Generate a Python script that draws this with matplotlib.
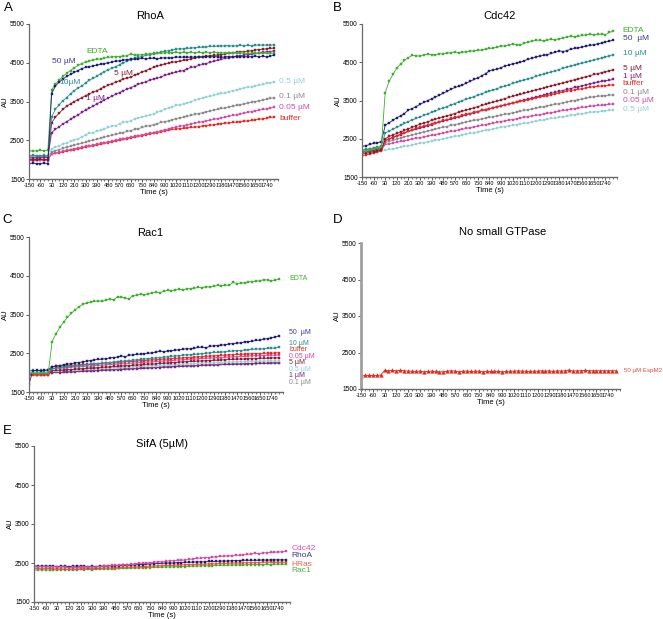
import matplotlib
matplotlib.use('Agg')
import matplotlib.pyplot as plt
from matplotlib import font_manager
from matplotlib.ticker import MultipleLocator

# pick a condensed sans if it is installed
names = {f.name for f in font_manager.fontManager.ttflist}
NARROW = 'Liberation Sans Narrow' if 'Liberation Sans Narrow' in names else 'Liberation Sans'
plt.rcParams['font.family'] = [NARROW, 'DejaVu Sans']

W, H = 663, 619

# sampling times (s): 6 points before addition, then every 30 s
TIME = list(range(-150, 1801, 30))
XTICKS = list(range(-150, 1741, 90))
YTICKS = [1500, 2500, 3500, 4500, 5500]

# ---------------- A: RhoA ----------------
A_EDTA = [2230, 2220, 2230, 2240, 2230, 2250,
          3800, 3950, 4050, 4150, 4230, 4300, 4370, 4430, 4480, 4520,
          4550, 4570, 4590, 4600, 4620, 4640, 4650, 4660, 4660, 4670,
          4680, 4730, 4690, 4700, 4710, 4720, 4730, 4740, 4740, 4750,
          4760, 4760, 4760, 4770, 4760, 4770, 4760, 4770, 4760, 4770,
          4760, 4770, 4760, 4770, 4760, 4750, 4760, 4750, 4760, 4750,
          4740, 4750, 4740, 4750, 4740, 4750, 4740, 4750, 4740, 4750]
A_50 = [1900, 1910, 1900, 1900, 1910, 1900,
        3700, 3900, 4000, 4080, 4150, 4200, 4250, 4300, 4350, 4380,
        4400, 4420, 4440, 4460, 4480, 4500, 4520, 4540, 4550, 4570,
        4580, 4600, 4590, 4600, 4610, 4600, 4610, 4620, 4600, 4620,
        4630, 4620, 4630, 4650, 4640, 4650, 4640, 4650, 4640, 4660,
        4650, 4660, 4650, 4660, 4650, 4640, 4650, 4660, 4650, 4660,
        4650, 4660, 4650, 4660, 4670, 4660, 4670, 4650, 4670, 4700]
A_10 = [2100, 2110, 2100, 2100, 2110, 2100,
        3100, 3300, 3420, 3520, 3600, 3700, 3780, 3850, 3900, 3980,
        4050, 4100, 4150, 4220, 4270, 4320, 4360, 4400, 4450, 4500,
        4540, 4580, 4610, 4640, 4660, 4690, 4710, 4730, 4750, 4780,
        4800, 4810, 4830, 4850, 4860, 4860, 4870, 4880, 4890, 4900,
        4900, 4910, 4920, 4920, 4930, 4930, 4940, 4940, 4930, 4940,
        4950, 4940, 4950, 4940, 4950, 4960, 4950, 4960, 4950, 4970]
A_5 = [2000, 1990, 2000, 2010, 2000, 2000,
       2950, 3100, 3200, 3300, 3380, 3440, 3500, 3550, 3600, 3650,
       3700, 3740, 3780, 3830, 3880, 3920, 3960, 4000, 4040, 4080,
       4100, 4130, 4180, 4220, 4260, 4300, 4340, 4380, 4410, 4440,
       4470, 4490, 4510, 4530, 4540, 4560, 4580, 4600, 4620, 4640,
       4650, 4670, 4680, 4690, 4700, 4710, 4730, 4740, 4760, 4770,
       4780, 4790, 4800, 4810, 4830, 4840, 4850, 4860, 4870, 4880]
A_1 = [2050, 2040, 2050, 2050, 2060, 2050,
       2700, 2780, 2850, 2920, 2980, 3040, 3100, 3150, 3220, 3280,
       3330, 3380, 3440, 3490, 3540, 3590, 3640, 3690, 3730, 3780,
       3820, 3860, 3900, 3950, 3980, 4010, 4050, 4080, 4100, 4130,
       4180, 4200, 4230, 4260, 4280, 4300, 4350, 4380, 4400, 4430,
       4460, 4480, 4510, 4540, 4560, 4590, 4610, 4630, 4650, 4670,
       4680, 4700, 4710, 4720, 4740, 4750, 4770, 4780, 4790, 4810]
A_05 = [2050, 2060, 2050, 2050, 2060, 2050,
        2280, 2320, 2360, 2400, 2430, 2470, 2500, 2540, 2580, 2640,
        2680, 2700, 2730, 2760, 2800, 2830, 2860, 2880, 2920, 2960,
        2980, 3000, 3050, 3080, 3110, 3130, 3150, 3180, 3220, 3260,
        3300, 3330, 3360, 3400, 3420, 3440, 3460, 3500, 3530, 3560,
        3590, 3610, 3630, 3660, 3690, 3710, 3720, 3750, 3780, 3800,
        3830, 3850, 3870, 3880, 3900, 3920, 3940, 3970, 3990, 4010]
A_01 = [2080, 2070, 2080, 2080, 2090, 2080,
        2200, 2230, 2260, 2290, 2320, 2350, 2370, 2400, 2420, 2450,
        2480, 2500, 2520, 2550, 2580, 2600, 2630, 2650, 2680, 2700,
        2730, 2750, 2780, 2800, 2830, 2860, 2880, 2900, 2930, 2960,
        2980, 3000, 3030, 3060, 3080, 3100, 3120, 3140, 3170, 3190,
        3210, 3230, 3260, 3280, 3300, 3320, 3340, 3360, 3380, 3400,
        3420, 3440, 3460, 3480, 3500, 3520, 3540, 3560, 3580, 3600]
A_005 = [1980, 1970, 1980, 1990, 1980, 1980,
         2150, 2170, 2190, 2210, 2240, 2260, 2280, 2300, 2320, 2340,
         2360, 2380, 2400, 2420, 2440, 2460, 2480, 2500, 2520, 2540,
         2560, 2580, 2600, 2620, 2640, 2660, 2680, 2700, 2720, 2750,
         2770, 2790, 2820, 2840, 2860, 2880, 2900, 2920, 2940, 2960,
         2980, 3000, 3020, 3040, 3060, 3080, 3100, 3120, 3140, 3160,
         3180, 3200, 3220, 3240, 3260, 3280, 3300, 3310, 3330, 3350]
A_BUF = [2000, 2010, 2000, 2000, 2010, 2000,
         2150, 2170, 2180, 2200, 2220, 2240, 2260, 2280, 2300, 2320,
         2340, 2360, 2380, 2400, 2420, 2440, 2460, 2480, 2500, 2520,
         2540, 2560, 2580, 2600, 2620, 2640, 2660, 2680, 2700, 2720,
         2740, 2760, 2780, 2790, 2800, 2810, 2820, 2830, 2840, 2850,
         2870, 2880, 2890, 2900, 2920, 2930, 2940, 2950, 2960, 2970,
         2980, 2990, 3000, 3010, 3030, 3040, 3060, 3070, 3090, 3100]

# ---------------- B: Cdc42 ----------------
B_EDTA = [2150, 2170, 2200, 2230, 2260, 2290,
          3700, 4000, 4180, 4350, 4450, 4550, 4620, 4680, 4670, 4660,
          4690, 4710, 4700, 4700, 4720, 4720, 4740, 4750, 4770, 4750,
          4760, 4780, 4790, 4800, 4810, 4820, 4840, 4860, 4870, 4900,
          4920, 4930, 4950, 4980, 4960, 4950, 5000, 5020, 5050, 5080,
          5070, 5060, 5080, 5100, 5090, 5120, 5130, 5160, 5180, 5170,
          5180, 5200, 5220, 5230, 5220, 5230, 5240, 5220, 5280, 5310]
B_50 = [2300, 2320, 2350, 2380, 2400, 2420,
        2850, 2920, 2980, 3050, 3100, 3160, 3250, 3290, 3340, 3400,
        3450, 3500, 3540, 3590, 3640, 3690, 3740, 3790, 3840, 3870,
        3900, 3960, 4000, 4050, 4090, 4150, 4200, 4280, 4300, 4320,
        4360, 4400, 4430, 4460, 4480, 4500, 4540, 4580, 4600, 4640,
        4660, 4680, 4700, 4730, 4760, 4800, 4780, 4800, 4840, 4860,
        4880, 4900, 4920, 4940, 4960, 4980, 5000, 5030, 5050, 5080]
B_10 = [2200, 2220, 2240, 2260, 2280, 2300,
        2650, 2700, 2750, 2800, 2850, 2900, 2950, 2990, 3030, 3070,
        3110, 3150, 3190, 3230, 3270, 3300, 3340, 3380, 3420, 3460,
        3500, 3530, 3570, 3600, 3640, 3680, 3710, 3750, 3780, 3810,
        3850, 3880, 3910, 3950, 3980, 4010, 4040, 4070, 4100, 4130,
        4160, 4190, 4220, 4250, 4280, 4310, 4340, 4370, 4400, 4420,
        4450, 4480, 4500, 4530, 4560, 4590, 4610, 4640, 4670, 4700]
B_5 = [2100, 2120, 2140, 2160, 2180, 2200,
       2500, 2560, 2600, 2640, 2680, 2720, 2760, 2800, 2840, 2880,
       2910, 2940, 2980, 3010, 3040, 3070, 3100, 3130, 3160, 3190,
       3220, 3250, 3280, 3310, 3340, 3370, 3400, 3430, 3460, 3490,
       3520, 3550, 3580, 3610, 3640, 3660, 3690, 3720, 3750, 3780,
       3800, 3830, 3860, 3880, 3910, 3940, 3960, 3990, 4020, 4040,
       4070, 4100, 4120, 4150, 4180, 4200, 4230, 4250, 4280, 4300]
B_1 = [2150, 2170, 2180, 2200, 2220, 2240,
       2450, 2490, 2530, 2570, 2610, 2650, 2690, 2720, 2750, 2780,
       2810, 2840, 2870, 2900, 2930, 2960, 2990, 3010, 3040, 3070,
       3100, 3130, 3160, 3180, 3210, 3240, 3260, 3290, 3310, 3340,
       3360, 3390, 3410, 3440, 3460, 3490, 3510, 3540, 3560, 3590,
       3610, 3640, 3660, 3690, 3710, 3740, 3760, 3790, 3810, 3840,
       3860, 3890, 3910, 3940, 3960, 3980, 4000, 4020, 4030, 4050]
B_BUF = [2050, 2080, 2100, 2130, 2150, 2180,
         2450, 2500, 2540, 2580, 2620, 2660, 2700, 2740, 2770, 2800,
         2830, 2860, 2890, 2920, 2950, 2980, 3000, 3030, 3060, 3080,
         3110, 3140, 3160, 3190, 3210, 3240, 3260, 3290, 3310, 3340,
         3360, 3380, 3410, 3430, 3450, 3480, 3500, 3520, 3540, 3570,
         3590, 3610, 3630, 3650, 3670, 3700, 3720, 3740, 3760, 3780,
         3790, 3810, 3830, 3850, 3860, 3870, 3880, 3890, 3900, 3910]
B_01 = [2200, 2210, 2220, 2230, 2240, 2250,
        2400, 2430, 2460, 2490, 2520, 2550, 2580, 2600, 2630, 2650,
        2680, 2700, 2730, 2750, 2780, 2800, 2820, 2850, 2870, 2890,
        2920, 2940, 2960, 2980, 3000, 3020, 3040, 3060, 3080, 3100,
        3120, 3140, 3160, 3180, 3200, 3220, 3240, 3260, 3280, 3300,
        3320, 3340, 3360, 3380, 3400, 3420, 3440, 3460, 3480, 3500,
        3520, 3540, 3560, 3580, 3600, 3610, 3620, 3630, 3640, 3650]
B_005 = [2150, 2160, 2170, 2180, 2190, 2200,
         2350, 2370, 2390, 2410, 2430, 2450, 2470, 2490, 2510, 2530,
         2550, 2570, 2590, 2610, 2630, 2650, 2670, 2690, 2710, 2730,
         2750, 2770, 2790, 2810, 2830, 2850, 2870, 2890, 2910, 2930,
         2950, 2970, 2990, 3000, 3020, 3040, 3060, 3080, 3100, 3110,
         3130, 3150, 3170, 3180, 3200, 3220, 3240, 3250, 3270, 3290,
         3300, 3320, 3330, 3350, 3360, 3370, 3380, 3390, 3400, 3410]
B_05 = [2150, 2160, 2170, 2180, 2190, 2200,
        2200, 2220, 2240, 2260, 2280, 2300, 2320, 2340, 2360, 2380,
        2400, 2420, 2440, 2460, 2480, 2500, 2520, 2540, 2560, 2580,
        2600, 2620, 2640, 2660, 2680, 2700, 2720, 2740, 2760, 2780,
        2800, 2820, 2840, 2850, 2870, 2890, 2910, 2920, 2940, 2960,
        2980, 2990, 3010, 3030, 3040, 3060, 3080, 3090, 3110, 3130,
        3140, 3160, 3170, 3190, 3200, 3210, 3220, 3230, 3240, 3250]

# ---------------- C: Rac1 ----------------
C_EDTA = [1980, 1990, 1980, 1990, 1980, 1990,
          2800, 3000, 3170, 3300, 3430, 3530, 3620, 3700, 3760, 3800,
          3820, 3840, 3850, 3840, 3870, 3900, 3880, 3960, 3940, 3930,
          3900, 3990, 4000, 4020, 4010, 4040, 4060, 4080, 4060, 4100,
          4120, 4110, 4130, 4150, 4140, 4160, 4170, 4180, 4200, 4190,
          4220, 4210, 4230, 4250, 4240, 4260, 4250, 4330, 4300, 4310,
          4320, 4340, 4350, 4360, 4370, 4400, 4390, 4370, 4380, 4420]
C_50 = [1700, 2050, 2060, 2050, 2060, 2070,
        2150, 2170, 2180, 2200, 2220, 2230, 2250, 2260, 2280, 2300,
        2310, 2330, 2340, 2350, 2360, 2380, 2390, 2400, 2430, 2410,
        2450, 2460, 2470, 2480, 2490, 2500, 2510, 2530, 2550, 2540,
        2560, 2570, 2580, 2590, 2600, 2620, 2610, 2630, 2650, 2660,
        2640, 2680, 2690, 2700, 2710, 2720, 2740, 2750, 2760, 2770,
        2790, 2800, 2810, 2830, 2840, 2860, 2880, 2900, 2920, 2950]
C_10 = [2050, 2060, 2050, 2060, 2050, 2060,
        2100, 2120, 2130, 2140, 2150, 2160, 2170, 2180, 2190, 2200,
        2210, 2220, 2230, 2240, 2250, 2260, 2270, 2280, 2290, 2300,
        2310, 2320, 2330, 2340, 2350, 2360, 2370, 2380, 2390, 2400,
        2410, 2420, 2430, 2440, 2450, 2460, 2460, 2470, 2480, 2490,
        2500, 2510, 2520, 2520, 2530, 2540, 2550, 2560, 2570, 2570,
        2580, 2590, 2600, 2610, 2610, 2620, 2630, 2630, 2640, 2650]
C_BUF = [1930, 1940, 1930, 1940, 1930, 1940,
         2150, 2160, 2170, 2170, 2180, 2190, 2190, 2200, 2210, 2210,
         2220, 2230, 2230, 2240, 2250, 2250, 2260, 2270, 2270, 2280,
         2290, 2290, 2300, 2310, 2310, 2320, 2330, 2330, 2340, 2350,
         2350, 2360, 2370, 2370, 2380, 2390, 2390, 2400, 2410, 2410,
         2420, 2430, 2430, 2440, 2450, 2450, 2460, 2460, 2470, 2470,
         2480, 2480, 2490, 2490, 2490, 2500, 2500, 2500, 2510, 2510]
C_005 = [1950, 1960, 1950, 1960, 1950, 1960,
         2100, 2110, 2120, 2120, 2130, 2140, 2150, 2150, 2160, 2170,
         2170, 2180, 2190, 2190, 2200, 2210, 2210, 2220, 2230, 2230,
         2240, 2250, 2250, 2260, 2270, 2270, 2280, 2290, 2290, 2300,
         2310, 2310, 2320, 2330, 2330, 2340, 2350, 2350, 2360, 2370,
         2370, 2380, 2380, 2390, 2390, 2400, 2400, 2410, 2410, 2420,
         2420, 2430, 2430, 2440, 2440, 2440, 2450, 2450, 2450, 2460]
C_5 = [1950, 1960, 1950, 1950, 1960, 1950,
       2050, 2060, 2060, 2070, 2080, 2080, 2090, 2100, 2100, 2110,
       2120, 2120, 2130, 2140, 2140, 2150, 2160, 2160, 2170, 2180,
       2180, 2190, 2200, 2200, 2210, 2220, 2220, 2230, 2240, 2240,
       2250, 2260, 2260, 2270, 2280, 2280, 2290, 2290, 2300, 2300,
       2310, 2310, 2320, 2320, 2330, 2330, 2340, 2340, 2350, 2350,
       2350, 2360, 2360, 2360, 2370, 2370, 2370, 2380, 2380, 2380]
C_05 = [2000, 2010, 2000, 2010, 2000, 2010,
        2050, 2050, 2060, 2060, 2070, 2070, 2080, 2080, 2090, 2090,
        2100, 2100, 2110, 2110, 2120, 2120, 2130, 2130, 2140, 2140,
        2150, 2150, 2160, 2160, 2170, 2170, 2180, 2180, 2190, 2190,
        2200, 2200, 2210, 2210, 2220, 2220, 2230, 2230, 2240, 2240,
        2250, 2250, 2260, 2260, 2260, 2270, 2270, 2270, 2280, 2280,
        2280, 2290, 2290, 2290, 2290, 2300, 2300, 2300, 2300, 2300]
C_1 = [1980, 1990, 1980, 1990, 1980, 1990,
       2000, 2010, 2000, 2010, 2020, 2010, 2020, 2030, 2030, 2040,
       2040, 2050, 2050, 2060, 2060, 2070, 2070, 2080, 2080, 2090,
       2090, 2100, 2100, 2110, 2110, 2120, 2120, 2130, 2130, 2140,
       2140, 2150, 2150, 2160, 2160, 2170, 2170, 2180, 2180, 2190,
       2190, 2200, 2200, 2200, 2210, 2210, 2210, 2220, 2220, 2220,
       2230, 2230, 2230, 2240, 2240, 2240, 2240, 2250, 2250, 2250]
C_01 = [2000, 2010, 2000, 2010, 2000, 2010,
        2000, 2010, 2010, 2020, 2020, 2030, 2030, 2040, 2040, 2050,
        2050, 2060, 2060, 2070, 2070, 2080, 2080, 2090, 2090, 2100,
        2100, 2110, 2110, 2120, 2120, 2130, 2130, 2140, 2140, 2150,
        2150, 2160, 2160, 2170, 2170, 2180, 2180, 2180, 2190, 2190,
        2190, 2200, 2200, 2200, 2210, 2210, 2210, 2220, 2220, 2220,
        2230, 2230, 2230, 2230, 2240, 2240, 2240, 2240, 2250, 2250]

# ---------------- D: no small GTPase ----------------
D_ESPM2 = [1850, 1870, 1870, 1870, 1870, 1880,
           2010, 2000, 2010, 2000, 2010, 2000, 1990, 1990, 1980, 1990,
           1970, 1980, 1990, 1980, 1970, 1970, 1990, 2000, 1990, 1970,
           1990, 1990, 1980, 1990, 1990, 1970, 1990, 1980, 1990, 1980,
           1970, 1980, 1990, 1990, 2000, 1990, 1990, 1980, 1990, 1990,
           2000, 1990, 2000, 1980, 2000, 1990, 2000, 2020, 1990, 2000,
           2000, 2010, 2000, 2000, 2000, 2000, 2000, 2000, 2000, 2000]

# ---------------- E: SifA (5 µM) ----------------
E_CDC42 = [2400, 2400, 2410, 2400, 2400, 2410,
           2390, 2400, 2390, 2380, 2390, 2380, 2390, 2390, 2400, 2390,
           2400, 2410, 2420, 2430, 2440, 2440, 2450, 2460, 2460, 2470,
           2480, 2490, 2490, 2500, 2510, 2520, 2530, 2530, 2540, 2560,
           2560, 2570, 2570, 2580, 2590, 2610, 2620, 2630, 2640, 2640,
           2650, 2660, 2670, 2680, 2680, 2690, 2700, 2700, 2710, 2720,
           2730, 2750, 2740, 2760, 2760, 2770, 2780, 2780, 2790, 2800]
E_RHOA = [2420, 2420, 2420, 2420, 2420, 2420,
          2410, 2420, 2420, 2410, 2420, 2420, 2420, 2420, 2410, 2420,
          2410, 2420, 2420, 2420, 2430, 2430, 2430, 2440, 2440, 2450,
          2450, 2460, 2460, 2470, 2480, 2480, 2490, 2490, 2500, 2500,
          2500, 2510, 2510, 2520, 2520, 2520, 2530, 2530, 2530, 2540,
          2540, 2540, 2550, 2550, 2550, 2560, 2560, 2560, 2570, 2570,
          2570, 2570, 2570, 2580, 2570, 2580, 2580, 2580, 2580, 2580]
E_HRAS = [2360, 2360, 2350, 2360, 2360, 2350,
          2350, 2350, 2340, 2340, 2350, 2340, 2350, 2350, 2360, 2350,
          2360, 2360, 2370, 2370, 2370, 2380, 2380, 2390, 2390, 2390,
          2400, 2400, 2410, 2410, 2420, 2420, 2430, 2430, 2440, 2440,
          2440, 2450, 2450, 2460, 2460, 2460, 2470, 2470, 2470, 2480,
          2480, 2480, 2490, 2490, 2490, 2500, 2500, 2500, 2510, 2510,
          2510, 2510, 2510, 2520, 2520, 2520, 2520, 2520, 2520, 2520]
E_RAC1 = [2320, 2320, 2330, 2320, 2320, 2330,
          2320, 2330, 2330, 2330, 2320, 2330, 2340, 2330, 2340, 2330,
          2340, 2340, 2350, 2340, 2350, 2350, 2360, 2360, 2360, 2370,
          2370, 2370, 2380, 2380, 2380, 2390, 2390, 2390, 2400, 2400,
          2400, 2410, 2410, 2410, 2420, 2420, 2420, 2430, 2430, 2430,
          2430, 2440, 2440, 2440, 2440, 2450, 2450, 2450, 2450, 2460,
          2460, 2460, 2460, 2460, 2470, 2460, 2470, 2470, 2470, 2470]

# colours
GREEN = '#3cb02a'
NAVY = '#1e1e78'
TEAL = '#2a8e90'
DKRED = '#8c1c2c'
PURPLE = '#7e1f8a'
CYAN = '#92d2d6'
GRAY = '#8a8a8a'
PINK = '#d24aa6'
RED = '#e8281e'


def box(l, t, r, b):
    return [l / W, 1 - b / H, (r - l) / W, (b - t) / H]


def style_axes(ax, thick_y=False):
    ax.set_xlim(-150, 1830)
    ax.set_ylim(1500, 5500)
    for s in ('top', 'right'):
        ax.spines[s].set_visible(False)
    ax.spines['bottom'].set_color('#6a6a6a')
    ax.spines['bottom'].set_linewidth(1.0)
    if thick_y:
        ax.spines['left'].set_color('#a0a0a0')
        ax.spines['left'].set_linewidth(2.0)
    else:
        ax.spines['left'].set_color('#6a6a6a')
        ax.spines['left'].set_linewidth(0.9)
    ax.set_xticks(XTICKS)
    ax.set_xticklabels([str(v) for v in XTICKS])
    ax.xaxis.set_minor_locator(MultipleLocator(30))
    ax.set_yticks(YTICKS)
    ax.set_yticklabels([str(v) for v in YTICKS])
    ax.tick_params(axis='x', which='major', labelsize=4.1, length=2, width=0.6,
                   pad=1, colors='#444444', labelcolor='black')
    ax.tick_params(axis='x', which='minor', length=1.2, width=0.5, colors='#444444')
    ax.tick_params(axis='y', labelsize=4.8, length=2, width=0.6, pad=1,
                   colors='#444444', labelcolor='black')
    ax.set_xlabel('Time (s)', fontsize=5.5, labelpad=0.5)
    ax.set_ylabel('AU', fontsize=5.5, labelpad=1)
    ax.patch.set_alpha(0)


def draw_series(ax, series, marker='s', ms=2.0):
    for vals, color in series:
        ax.plot(TIME, vals, '-', color=color, lw=0.6, marker=marker, ms=ms,
                mfc=color, mec=color, mew=0.3)


def put_labels(ax, labels, fs=6):
    for text, x, y, color, ha in labels:
        ax.text(x, y, text, color=color, fontsize=fs, ha=ha, va='center',
                clip_on=False)


fig = plt.figure(figsize=(W / 100, H / 100), dpi=100)

# A
axA = fig.add_axes(box(29, 24, 278, 179))
style_axes(axA)
draw_series(axA, [(A_BUF, RED), (A_005, PINK), (A_01, GRAY), (A_05, CYAN),
                  (A_1, PURPLE), (A_5, DKRED), (A_10, TEAL), (A_EDTA, GREEN),
                  (A_50, NAVY)])
put_labels(axA, [
    ('EDTA', 390, 4800, GREEN, 'center'),
    ('50 µM', 130, 4520, '#3a3a9a', 'center'),
    ('10µM', 175, 3980, TEAL, 'center'),
    ('5 µM', 600, 4235, DKRED, 'center'),
    ('1 µM', 375, 3565, PURPLE, 'center'),
    ('0.5 µM', 1840, 4010, CYAN, 'left'),
    ('0.1 µM', 1840, 3620, GRAY, 'left'),
    ('0.05 µM', 1840, 3340, PINK, 'left'),
    ('buffer', 1840, 3070, RED, 'left'),
])

# B
axB = fig.add_axes(box(362, 24, 617, 177))
style_axes(axB)
draw_series(axB, [(B_05, CYAN), (B_005, PINK), (B_01, GRAY), (B_1, PURPLE),
                  (B_BUF, RED), (B_5, DKRED), (B_10, TEAL), (B_50, NAVY),
                  (B_EDTA, GREEN)])
put_labels(axB, [
    ('EDTA', 1875, 5324, GREEN, 'left'),
    ('50  µM', 1875, 5114, '#3a3a9a', 'left'),
    ('10 µM', 1875, 4739, TEAL, 'left'),
    ('5 µM', 1875, 4327, DKRED, 'left'),
    ('1 µM', 1875, 4125, PURPLE, 'left'),
    ('buffer', 1875, 3951, RED, 'left'),
    ('0.1 µM', 1875, 3715, GRAY, 'left'),
    ('0.05 µM', 1875, 3513, PINK, 'left'),
    ('0.5 µM', 1875, 3277, CYAN, 'left'),
])

# C
axC = fig.add_axes(box(29, 237, 283, 392))
style_axes(axC)
draw_series(axC, [(C_01, GRAY), (C_1, PURPLE), (C_05, CYAN), (C_5, DKRED),
                  (C_005, PINK), (C_BUF, RED), (C_10, TEAL), (C_50, NAVY),
                  (C_EDTA, GREEN)])
put_labels(axC, [
    ('EDTA', 1879, 4426, GREEN, 'left'),
    ('50  µM', 1879, 3048, '#3a3a9a', 'left'),
    ('10 µM', 1879, 2760, TEAL, 'left'),
    ('buffer', 1879, 2590, RED, 'left'),
    ('0.05 µM', 1879, 2420, PINK, 'left'),
    ('5 µM', 1879, 2250, DKRED, 'left'),
    ('0.5 µM', 1879, 2085, CYAN, 'left'),
    ('1 µM', 1879, 1920, PURPLE, 'left'),
    ('0.1 µM', 1879, 1755, GRAY, 'left'),
], fs=5.0)

# D
axD = fig.add_axes(box(361, 243, 620, 389))
style_axes(axD, thick_y=True)
draw_series(axD, [(D_ESPM2, '#e02818')], marker='^', ms=2.6)
put_labels(axD, [('50 µM EspM2', 1861, 2001, '#e04a3a', 'left')], fs=4.4)

# E
axE = fig.add_axes(box(34, 446, 290, 602))
style_axes(axE)
draw_series(axE, [(E_RAC1, GREEN), (E_HRAS, '#f04a30'), (E_RHOA, NAVY),
                  (E_CDC42, PINK)], ms=1.6)
put_labels(axE, [
    ('Cdc42', 1843, 2877, '#d050b0', 'left'),
    ('RhoA', 1843, 2687, '#3a3a9a', 'left'),
    ('HRas', 1843, 2474, '#f06048', 'left'),
    ('Rac1', 1843, 2303, '#4cb040', 'left'),
])

# titles and panel letters (pixel positions)
for text, x, y in [('RhoA', 150, 16), ('Cdc42', 500, 16), ('Rac1', 150, 233),
                   ('No small GTPase', 503, 232), ('SifA (5µM)', 162, 444)]:
    fig.text(x / W, 1 - y / H, text, fontsize=8, ha='center', va='center',
             family=['Liberation Sans', 'DejaVu Sans'])
for text, x, y in [('A', 8, 8), ('B', 337, 8), ('C', 7, 220), ('D', 338, 220),
                   ('E', 7, 431)]:
    fig.text(x / W, 1 - y / H, text, fontsize=9.5, ha='center', va='center',
             family=['Liberation Sans', 'DejaVu Sans'])

fig.savefig('out.png', dpi=100)
